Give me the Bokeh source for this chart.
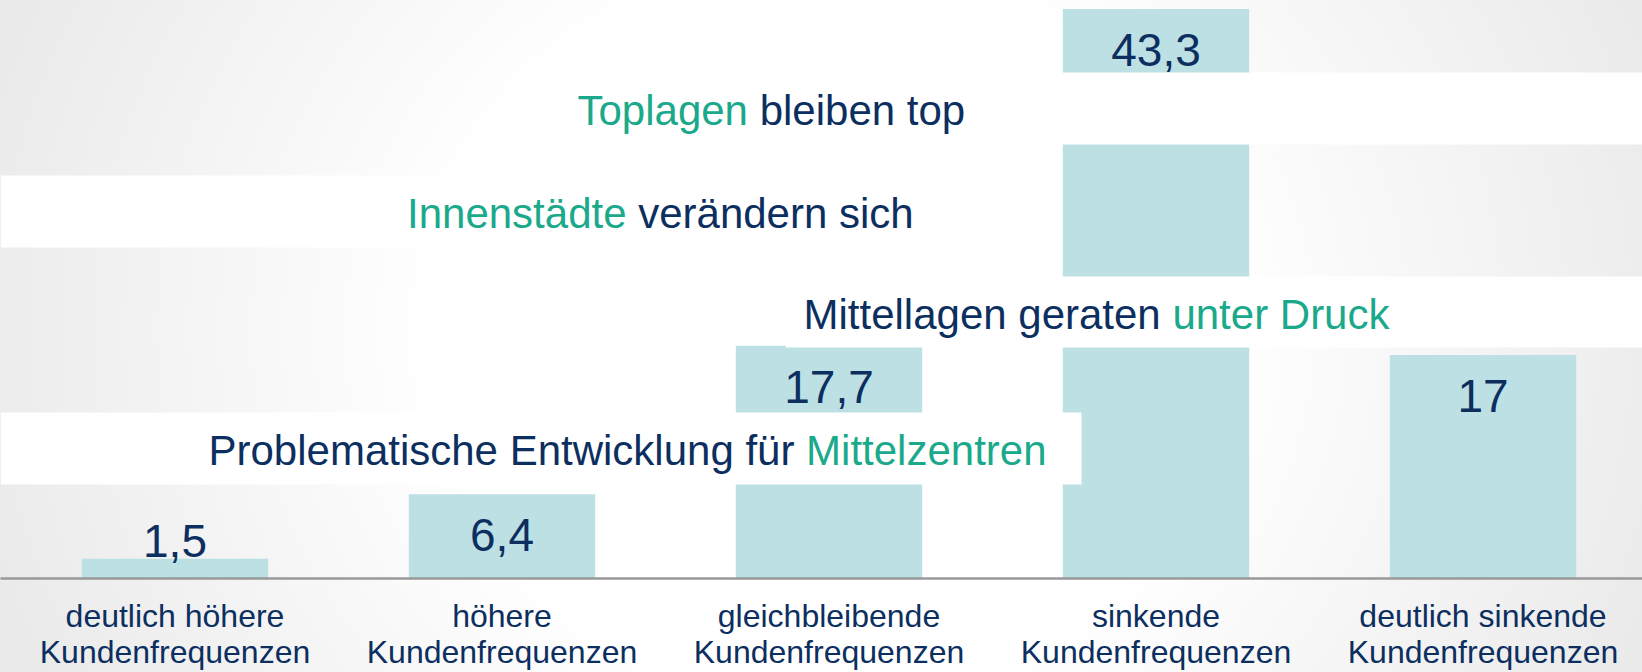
from bokeh.plotting import figure
from bokeh.models import Range1d, FixedTicker, BoxAnnotation, Label, ColumnDataSource
from bokeh.embed import file_html
from bokeh.resources import INLINE
from bokeh.core.properties import value

# ---------------- data ----------------
categories = [
    "deutlich höhere\nKundenfrequenzen",
    "höhere\nKundenfrequenzen",
    "gleichbleibende\nKundenfrequenzen",
    "sinkende\nKundenfrequenzen",
    "deutlich sinkende\nKundenfrequenzen",
]
values = [1.5, 6.4, 17.7, 43.3, 17.0]
value_labels = ["1,5", "6,4", "17,7", "43,3", "17"]

# banner headlines: full sentence and its leading part (coloured differently)
banner_full = ["Toplagen bleiben top", "Innenstädte verändern sich",
               "Mittellagen geraten unter Druck", "Problematische Entwicklung für Mittelzentren"]
banner_prefix = ["Toplagen", "Innenstädte", "Mittellagen geraten", "Problematische Entwicklung für"]
banner_prefix_green = [True, True, False, False]

# ---------------- styles / layout ----------------
NAVY = "#0c2f5f"
GREEN = "#1aa98b"
BAR = "#bce0e3"
FONT = "Liberation Sans"

W, H = 1642, 672
FRAME_H = 578
BOTTOM = H - FRAME_H
BAND = 327.0
X0 = -174.5 / BAND
X1 = X0 + W / BAND
Y1 = FRAME_H * 43.3 / (FRAME_H - 8.5)


def xd(px):  # page pixel -> data x
    return X0 + px / BAND


def yd(py):  # page pixel -> data y
    return (FRAME_H - py) * Y1 / FRAME_H


p = figure(width=W, height=H, output_backend="svg", toolbar_location=None,
           x_range=Range1d(X0, X1), y_range=Range1d(0, Y1),
           y_axis_location=None, min_border=0, min_border_bottom=BOTTOM,
           background_fill_alpha=0, border_fill_alpha=0, outline_line_color=None)
p.styles = {"background": "radial-gradient(ellipse 880px 800px at 830px 330px, #ffffff 45%, #eaeaea 100%)"}
p.xgrid.visible = False
p.ygrid.visible = False

idx = list(range(len(values)))
px_per_unit = FRAME_H / Y1
yoff = [41 if v * px_per_unit > 60 else -18 for v in values]
src = ColumnDataSource(dict(x=idx, top=values, label=value_labels, yoff=yoff))

p.vbar(x="x", top="top", bottom=0, width=0.57, source=src, fill_color=BAR, line_color=None)
p.text(x="x", y="top", text="label", y_offset="yoff", source=src,
       text_align="center", text_baseline="alphabetic",
       text_font=value(FONT), text_font_size="46px", text_color=NAVY)

ax = p.xaxis[0]
ax.ticker = FixedTicker(ticks=idx)
ax.major_label_overrides = {i: c for i, c in zip(idx, categories)}
ax.axis_line_color = "#999999"
ax.axis_line_width = 2.5
ax.major_tick_line_color = None
ax.minor_tick_line_color = None
ax.major_tick_out = 0
ax.minor_tick_out = 0
ax.major_tick_in = 0
ax.minor_tick_in = 0
ax.major_label_standoff = 19
ax.major_label_text_font = FONT
ax.major_label_text_font_size = "32px"
ax.major_label_text_color = NAVY
ax.major_label_text_line_height = 1.0

# white banners (page-pixel layout)
banner_boxes = [
    dict(left=xd(560), right=None, top=yd(72), bottom=yd(144)),
    dict(left=None, right=xd(1000), top=yd(175), bottom=yd(247)),
    dict(left=xd(785), right=None, top=yd(276), bottom=yd(347)),
    dict(left=None, right=xd(1081), top=yd(412), bottom=yd(484)),
]
text_left = [577, 406.5, 803, 208]
text_base = [110.2, 213.2, 314.0, 450.3]

for b in banner_boxes:
    kw = {k: v for k, v in b.items() if v is not None}
    p.add_layout(BoxAnnotation(fill_color="white", fill_alpha=1.0, line_color=None, **kw))

for i in range(len(banner_full)):
    c_pre = GREEN if banner_prefix_green[i] else NAVY
    c_rest = NAVY if banner_prefix_green[i] else GREEN
    p.add_layout(Label(x=xd(text_left[i]), y=yd(text_base[i]), text=banner_full[i],
                       text_align="left", text_baseline="alphabetic", text_font=FONT,
                       text_font_size="42px", text_color=c_rest))
    p.add_layout(Label(x=xd(text_left[i]), y=yd(text_base[i]), text=banner_prefix[i],
                       text_align="left", text_baseline="alphabetic", text_font=FONT,
                       text_font_size="42px", text_color=c_pre,
                       background_fill_color="white", background_fill_alpha=1.0))

open("out.html", "w").write(file_html(p, INLINE))
